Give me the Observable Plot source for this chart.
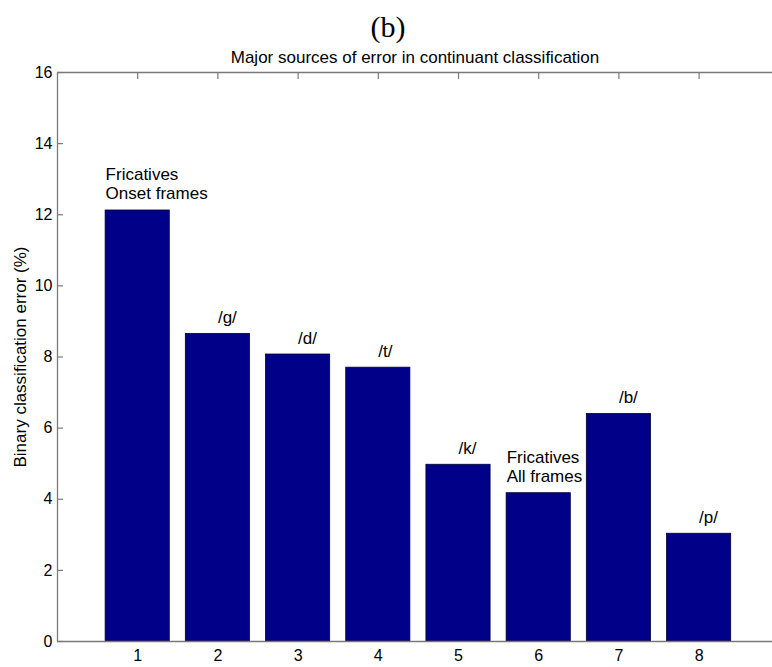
<!DOCTYPE html>
<html>
<head>
<meta charset="utf-8">
<script src="https://cdn.jsdelivr.net/npm/d3@7"></script>
<script src="https://cdn.jsdelivr.net/npm/@observablehq/plot@0.6"></script>
<style>
  html, body { margin: 0; padding: 0; background: #fff; }
  #chart svg { display: block; }
</style>
</head>
<body>
<div id="chart"></div>
<script>
// ---- data ----
const positions = [1, 2, 3, 4, 5, 6, 7, 8];
const errors = [12.12, 8.65, 8.07, 7.70, 4.97, 4.17, 6.40, 3.03];
const barLabels = ["Fricatives\nOnset frames", "/g/", "/d/", "/t/", "/k/", "Fricatives\nAll frames", "/b/", "/p/"];
const labelAtBarEdge = [true, false, false, false, false, true, false, false];
const xTicks = [1, 2, 3, 4, 5, 6, 7, 8];
const yTicks = [0, 2, 4, 6, 8, 10, 12, 14, 16];
const figTag = "(b)";
const title = "Major sources of error in continuant classification";
const yLabel = "Binary classification error (%)";

const barHalf = 0.4;
const rows = positions.map((p, i) => ({
  pos: p,
  err: errors[i],
  label: barLabels[i],
  lx: labelAtBarEdge[i] ? p - barHalf : p
}));

const W = 772, H = 667;
const mL = 57, mR = 0, mT = 72, mB = 26;
const plotW = W - mL - mR, plotH = H - mT - mB;
const axisGray = "#7a7a7a";

const chart = Plot.plot({
  width: W,
  height: H,
  marginLeft: mL,
  marginRight: mR,
  marginTop: mT,
  marginBottom: mB,
  x: { domain: [0, 8.915], axis: null },
  y: { domain: [0, 16], axis: null },
  style: { fontFamily: "'Liberation Sans', Arial, Helvetica, sans-serif", fontSize: "16px", background: "#fff", color: "#000" },
  marks: [
    // bars
    Plot.rectY(rows, { x1: d => d.pos - barHalf, x2: d => d.pos + barHalf, y1: 0, y2: "err", fill: "#000088", stroke: "#000033", strokeWidth: 0.8 }),
    // axis lines
    Plot.ruleX([0], { stroke: axisGray, strokeWidth: 1.3 }),
    Plot.ruleY([0], { stroke: axisGray, strokeWidth: 1.3 }),
    Plot.ruleY([16], { stroke: axisGray, strokeWidth: 1.3 }),
    // inward y ticks
    Plot.tickY(yTicks, { y: d => d, insetRight: plotW - 6, stroke: axisGray, strokeWidth: 1.2 }),
    // inward top ticks
    Plot.tickX(xTicks, { x: d => d, insetBottom: plotH - 7, stroke: axisGray, strokeWidth: 1.2 }),
    // tick labels
    Plot.axisX({ ticks: xTicks, tickSize: 0, tickPadding: 8, anchor: "bottom", fontSize: 16, tickFormat: d => String(d), label: null, fill: "#000" }),
    Plot.axisY({ ticks: yTicks, tickSize: 0, tickPadding: 5, anchor: "left", fontSize: 16, tickFormat: d => String(d), label: null, fill: "#000" }),
    // bar annotations
    Plot.text(rows, { x: "lx", y: "err", text: "label", textAnchor: "start", lineAnchor: "bottom", dy: -11, fontSize: 17, lineHeight: 1.12, fill: "#000" }),
    // y label
    Plot.text([yLabel], { frameAnchor: "left", textAnchor: "middle", rotate: -90, dx: -37, fontSize: 17, fill: "#000" }),
    // title
    Plot.text([title], { frameAnchor: "top", textAnchor: "middle", dy: -22, fontSize: 17, fill: "#000" }),
    // figure tag
    Plot.text([figTag], { frameAnchor: "top", textAnchor: "middle", dx: -27, dy: -57, fontSize: 30, fontFamily: "'Liberation Serif', 'DejaVu Serif', serif", fill: "#000" })
  ]
});
document.getElementById("chart").appendChild(chart);
</script>
</body>
</html>
